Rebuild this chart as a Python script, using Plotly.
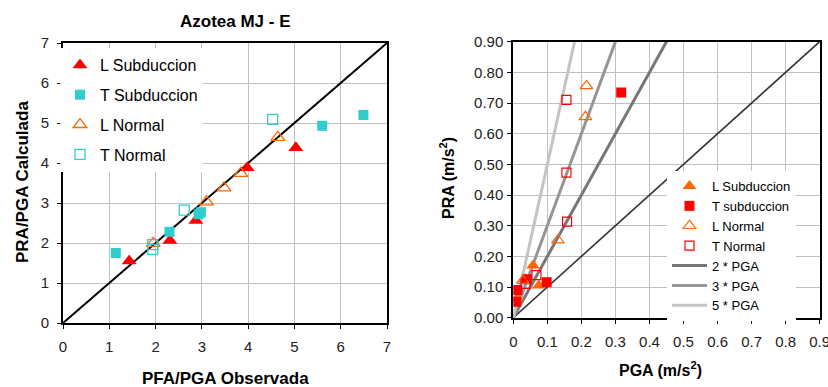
import plotly.graph_objects as go

W, H = 828, 387
FONT = "Liberation Sans, Arial, sans-serif"

# ---------------- Left chart data: PRA/PGA calculada vs PFA/PGA observada
l_sub_x = [1.43, 2.31, 2.87, 3.98, 5.03]
l_sub_y = [1.55, 2.06, 2.56, 3.88, 4.38]
t_sub_x = [1.14, 2.30, 2.93, 2.98, 5.60, 6.49]
t_sub_y = [1.75, 2.28, 2.72, 2.77, 4.93, 5.20]
l_nor_x = [1.95, 3.10, 3.48, 3.84, 4.64]
l_nor_y = [1.99, 3.03, 3.38, 3.74, 4.64]
t_nor_x = [1.94, 1.94, 2.62, 4.53]
t_nor_y = [1.96, 1.84, 2.82, 5.09]
diag_left = [0, 7]

# ---------------- Right chart data: PRA vs PGA (m/s2)
r_lsub_x = [0.012, 0.035, 0.058, 0.075]
r_lsub_y = [0.065, 0.125, 0.170, 0.105]
r_tsub_x = [0.008, 0.012, 0.040, 0.098, 0.317]
r_tsub_y = [0.052, 0.090, 0.125, 0.116, 0.734]
r_lnor_x = [0.028, 0.131, 0.212, 0.215]
r_lnor_y = [0.121, 0.253, 0.655, 0.756]
r_tnor_x = [0.036, 0.068, 0.158, 0.156, 0.156]
r_tnor_y = [0.110, 0.139, 0.313, 0.473, 0.710]
one_x = [0, 0.9]
one_y = [0, 0.9]
pga2_x = [0, 0.475]
pga2_y = [0, 0.95]
pga3_x = [0, 0.3167]
pga3_y = [0, 0.95]
pga5_x = [0, 0.19]
pga5_y = [0, 0.95]

left_ticks = [0, 1, 2, 3, 4, 5, 6, 7]
right_ticks = [0, 0.1, 0.2, 0.3, 0.4, 0.5, 0.6, 0.7, 0.8, 0.9]
right_xlabels = ["0", "0.1", "0.2", "0.3", "0.4", "0.5", "0.6", "0.7", "0.8", "0.9"]
right_ylabels = ["0.00", "0.10", "0.20", "0.30", "0.40", "0.50", "0.60", "0.70", "0.80", "0.90"]

RED = "#FF0000"
TEAL = "#33CCCC"
ORANGE = "#FF6600"

def px_x(p):
    return p / W

def px_y(p):
    return 1 - p / H

fig = go.Figure()

# ---- left traces
fig.add_trace(go.Scatter(x=diag_left, y=diag_left, mode="lines", line=dict(color="black", width=2),
                         showlegend=False, xaxis="x", yaxis="y", cliponaxis=False, hoverinfo="skip"))
fig.add_trace(go.Scatter(x=l_sub_x, y=l_sub_y, mode="markers", name="L Subduccion", legendgroup="a", legendrank=1,
                         marker=dict(symbol="triangle-up", color=RED, size=13), xaxis="x", yaxis="y", legend="legend"))
fig.add_trace(go.Scatter(x=t_sub_x, y=t_sub_y, mode="markers", name="T Subduccion", legendgroup="b", legendrank=2,
                         marker=dict(symbol="square", color=TEAL, size=10), xaxis="x", yaxis="y", legend="legend"))
fig.add_trace(go.Scatter(x=l_nor_x, y=l_nor_y, mode="markers", name="L Normal", legendgroup="c", legendrank=3,
                         marker=dict(symbol="triangle-up-open", color=ORANGE, size=12, line=dict(width=1.3)),
                         xaxis="x", yaxis="y", legend="legend"))
fig.add_trace(go.Scatter(x=t_nor_x, y=t_nor_y, mode="markers", name="T Normal", legendgroup="d", legendrank=4,
                         marker=dict(symbol="square-open", color=TEAL, size=10, line=dict(width=1.3)),
                         xaxis="x", yaxis="y", legend="legend"))

# ---- right traces
fig.add_trace(go.Scatter(x=one_x, y=one_y, mode="lines", line=dict(color="#333333", width=1.6),
                         showlegend=False, xaxis="x2", yaxis="y2", hoverinfo="skip"))
fig.add_trace(go.Scatter(x=pga2_x, y=pga2_y, mode="lines", name="2 * PGA", legendgroup="k", legendrank=5,
                         line=dict(color="#777777", width=3), xaxis="x2", yaxis="y2", legend="legend2"))
fig.add_trace(go.Scatter(x=pga3_x, y=pga3_y, mode="lines", name="3 * PGA", legendgroup="l", legendrank=6,
                         line=dict(color="#969696", width=3), xaxis="x2", yaxis="y2", legend="legend2"))
fig.add_trace(go.Scatter(x=pga5_x, y=pga5_y, mode="lines", name="5 * PGA", legendgroup="m", legendrank=7,
                         line=dict(color="#C4C4C4", width=3), xaxis="x2", yaxis="y2", legend="legend2"))
fig.add_trace(go.Scatter(x=r_lsub_x, y=r_lsub_y, mode="markers", name="L Subduccion", legendgroup="e", legendrank=1,
                         marker=dict(symbol="triangle-up", color=ORANGE, size=12), xaxis="x2", yaxis="y2", legend="legend2"))
fig.add_trace(go.Scatter(x=r_tsub_x, y=r_tsub_y, mode="markers", name="T subduccion", legendgroup="f", legendrank=2,
                         marker=dict(symbol="square", color=RED, size=10), xaxis="x2", yaxis="y2", legend="legend2"))
fig.add_trace(go.Scatter(x=r_lnor_x, y=r_lnor_y, mode="markers", name="L Normal", legendgroup="g", legendrank=3,
                         marker=dict(symbol="triangle-up-open", color=ORANGE, size=11, line=dict(width=1.2)),
                         xaxis="x2", yaxis="y2", legend="legend2"))
fig.add_trace(go.Scatter(x=r_tnor_x, y=r_tnor_y, mode="markers", name="T Normal", legendgroup="h", legendrank=4,
                         marker=dict(symbol="square-open", color=RED, size=9, line=dict(width=1.2)),
                         xaxis="x2", yaxis="y2", legend="legend2"))

axis_common = dict(showgrid=True, gridcolor="#C0C0C0", gridwidth=1, zeroline=False,
                   showline=True, linecolor="black", linewidth=2, mirror=True,
                   ticks="outside", ticklen=4, tickcolor="black", tickwidth=1, automargin=False,
                   tickfont=dict(family=FONT, size=15, color="#222222"))

ann = dict(xref="paper", yref="paper", showarrow=False, xanchor="center", yanchor="middle")

fig.update_layout(
    width=W, height=H, margin=dict(l=0, r=0, t=0, b=0, autoexpand=False),
    paper_bgcolor="white", plot_bgcolor="white",
    font=dict(family=FONT, color="black"),
    xaxis=dict(domain=[px_x(63), px_x(387)], range=[0, 7], tickvals=left_ticks, anchor="y",
               ticklabelstandoff=5, **axis_common),
    yaxis=dict(domain=[px_y(323), px_y(43)], range=[0, 7], tickvals=left_ticks, anchor="x",
               ticklabelstandoff=5, **axis_common),
    xaxis2=dict(domain=[px_x(513.3), px_x(819.7)], range=[0, 0.9], tickvals=right_ticks, ticktext=right_xlabels,
                anchor="y2", ticklabeloverflow="allow", ticklabelstandoff=5, **axis_common),
    yaxis2=dict(domain=[px_y(317.7), px_y(41.7)], range=[0, 0.9], tickvals=right_ticks, ticktext=right_ylabels,
                anchor="x2", ticklabelstandoff=1, **axis_common),
    legend=dict(x=px_x(60), y=px_y(48), xanchor="left", yanchor="top", bgcolor="white",
                font=dict(family=FONT, size=16, color="black"), tracegroupgap=6,
                itemwidth=30, traceorder="grouped"),
    legend2=dict(x=px_x(667), y=px_y(171), xanchor="left", yanchor="top", bgcolor="white",
                 font=dict(family=FONT, size=13, color="black"), tracegroupgap=0,
                 itemwidth=35, traceorder="grouped"),
    annotations=[
        dict(text="<b>Azotea MJ - E</b>", x=px_x(235), y=px_y(22), font=dict(family=FONT, size=17), **ann),
        dict(text="<b>PFA/PGA Observada</b>", x=px_x(225), y=px_y(378), font=dict(family=FONT, size=17), **ann),
        dict(text="<b>PRA/PGA Calculada</b>", x=px_x(22), y=px_y(182), textangle=-90,
             font=dict(family=FONT, size=17), **ann),
        dict(text="<b>PGA (m/s<sup>2</sup>)</b>", x=px_x(660), y=px_y(369), font=dict(family=FONT, size=16), **ann),
        dict(text="<b>PRA (m/s<sup>2</sup>)</b>", x=px_x(447), y=px_y(178), textangle=-90,
             font=dict(family=FONT, size=16), **ann),
    ],
)

fig.write_html("out.html")
